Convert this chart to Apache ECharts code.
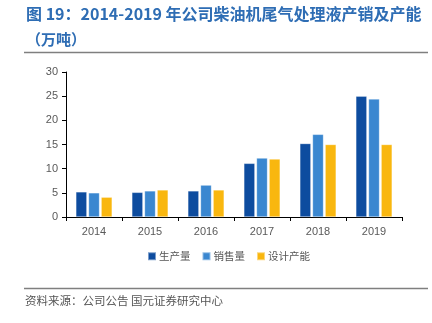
<!DOCTYPE html>
<html>
<head>
<meta charset="utf-8">
<script src="https://cdn.jsdelivr.net/npm/echarts@6/dist/echarts.min.js"></script>
<style>
  html, body { margin: 0; padding: 0; background: #fff; }
  #chart { width: 432px; height: 323px; }
</style>
</head>
<body>
<div id="chart"></div>
<script>
// Diesel exhaust fluid: output, sales and design capacity (10k tonnes)
const years = ['2014', '2015', '2016', '2017', '2018', '2019'];
const production = [5.2, 5.1, 5.4, 11.1, 15.2, 25.0];
const sales = [5.0, 5.4, 6.6, 12.2, 17.1, 24.4];
const capacity = [4.1, 5.6, 5.6, 12.0, 15.0, 15.0];
const seriesNames = ['生产量', '销售量', '设计产能'];
const yTicks = [0, 5, 10, 15, 20, 25, 30];

const colors = ['#0d4c9f', '#3a87d0', '#f9b70f'];
const cjk = '"Noto Sans CJK SC", sans-serif';

const chart = echarts.init(document.getElementById('chart'), null, { renderer: 'canvas' });

function bar(name, data, color) {
  return {
    name: name,
    type: 'bar',
    data: data,
    barWidth: 11,
    barGap: '15%',
    itemStyle: { color: color, borderColor: 'rgba(255,255,255,0.45)', borderWidth: 0.6 }
  };
}

chart.setOption({
  animation: false,
  color: colors,
  graphic: [
    {
      type: 'text', left: 26, top: 6,
      style: { text: '图 19：2014-2019 年公司柴油机尾气处理液产销及产能', fill: '#2e6db4', font: 'bold 16px ' + cjk }
    },
    {
      type: 'text', left: 26, top: 32,
      style: { text: '（万吨）', fill: '#2e6db4', font: 'bold 15px ' + cjk }
    },
    { type: 'line', shape: { x1: 24, y1: 52.5, x2: 428, y2: 52.5 }, style: { stroke: '#7f7f7f', lineWidth: 1.5 } },
    { type: 'line', shape: { x1: 24, y1: 288.5, x2: 428, y2: 288.5 }, style: { stroke: '#7f7f7f', lineWidth: 1.5 } },
    {
      type: 'text', left: 25, top: 295,
      style: { text: '资料来源：公司公告 国元证券研究中心', fill: '#555', font: '11.5px ' + cjk }
    }
  ],
  legend: {
    data: seriesNames,
    top: 251,
    left: 147,
    itemWidth: 8,
    itemHeight: 8,
    itemGap: 11,
    padding: 0,
    icon: 'rect',
    textStyle: { color: '#555', fontSize: 10.5, fontFamily: cjk, padding: [0, 0, 0, -2] }
  },
  grid: { left: 66, right: 30, top: 72, bottom: 106, containLabel: false },
  xAxis: {
    type: 'category',
    data: years,
    axisLine: { lineStyle: { color: '#000', width: 1 } },
    axisTick: { show: true, length: 4, lineStyle: { color: '#000' } },
    axisLabel: { color: '#595959', fontSize: 11, margin: 9, fontFamily: 'Liberation Sans, Arial, sans-serif' }
  },
  yAxis: {
    type: 'value',
    min: yTicks[0],
    max: yTicks[yTicks.length - 1],
    interval: 5,
    axisLine: { show: true, lineStyle: { color: '#000', width: 1 } },
    axisTick: { show: true, length: 4, lineStyle: { color: '#000' } },
    splitLine: { show: false },
    axisLabel: { color: '#595959', fontSize: 11, margin: 8, fontFamily: 'Liberation Sans, Arial, sans-serif' }
  },
  series: [
    bar(seriesNames[0], production, colors[0]),
    bar(seriesNames[1], sales, colors[1]),
    bar(seriesNames[2], capacity, colors[2])
  ]
});
</script>
</body>
</html>
